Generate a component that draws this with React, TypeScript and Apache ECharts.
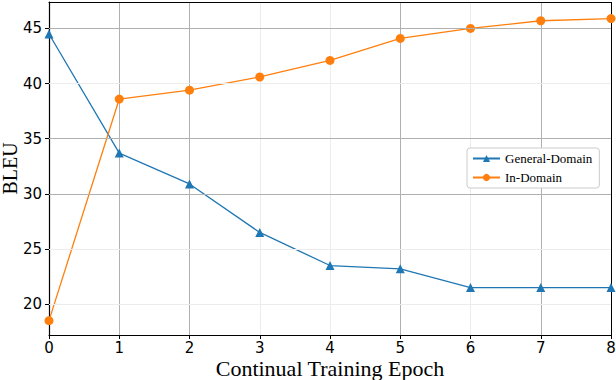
import React, { useEffect, useRef } from "react";
import * as echarts from "echarts";

const epochs = [0, 1, 2, 3, 4, 5, 6, 7, 8];
const generalDomain = [44.5, 33.7, 30.9, 26.5, 23.5, 23.2, 21.5, 21.5, 21.5];
const inDomain = [18.5, 38.6, 39.4, 40.6, 42.1, 44.1, 45.0, 45.7, 45.9];
const yTicks = [20, 25, 30, 35, 40, 45];
const yGridColors = ["#ececec", "#ececec", "#b0b0b0", "#b0b0b0", "#ececec", "#b0b0b0"];
const xGridColors = ["#dddddd", "#b0b0b0", "#b0b0b0", "#ececec", "#ececec", "#b0b0b0", "#ececec", "#b0b0b0", "#000000"];

export default function App() {
  const ref = useRef<HTMLDivElement>(null);
  useEffect(() => {
    if (!ref.current) return;
    const chart = echarts.init(ref.current, null, { renderer: "svg" });
    const sans = "DejaVu Sans";
    const serif = "Liberation Serif";
    chart.setOption({
      animation: false,
      backgroundColor: "#fff",
      grid: { left: 49, right: 5, top: 2, bottom: 45, outerBoundsMode: "none", containLabel: false },
      legend: {
        left: 467,
        top: 148,
        orient: "vertical",
        padding: [4, 7, 4, 5],
        itemGap: 6,
        itemWidth: 27,
        itemHeight: 9,
        backgroundColor: "#fff",
        borderColor: "#cccccc",
        borderWidth: 1,
        borderRadius: 3,
        textStyle: { fontFamily: serif, fontSize: 13, color: "#000" },
        data: ["General-Domain", "In-Domain"],
      },
      xAxis: [
        {
          type: "value",
          min: 0,
          max: 8,
          interval: 1,
          name: "Continual Training Epoch",
          nameLocation: "middle",
          nameGap: 22,
          nameMoveOverlap: false,
          nameTextStyle: { fontFamily: serif, fontSize: 22, lineHeight: 22, color: "#000" },
          axisLine: { show: true, lineStyle: { color: "#000", width: 1.2 } },
          axisTick: { show: true, length: 4, lineStyle: { color: "#000" } },
          axisLabel: { fontFamily: sans, fontSize: 15, color: "#000", margin: 5 },
          splitLine: { show: true, lineStyle: { color: xGridColors, width: 1 } },
        },
        {
          type: "value",
          position: "top",
          min: 0,
          max: 8,
          interval: 1,
          axisLine: { show: true, lineStyle: { color: "#000", width: 1.2 } },
          axisTick: { show: false },
          axisLabel: { show: false },
          splitLine: { show: false },
        },
      ],
      yAxis: [
        {
          type: "value",
          min: 17.2,
          max: 47.4,
          name: "BLEU",
          nameLocation: "middle",
          nameGap: 29,
          nameMoveOverlap: false,
          nameTextStyle: { fontFamily: serif, fontSize: 20, lineHeight: 20, color: "#000" },
          axisLine: { show: false },
          axisTick: { show: true, length: 4, customValues: yTicks, lineStyle: { color: "#000" } },
          axisLabel: { fontFamily: sans, fontSize: 15, color: "#000", margin: 7, customValues: yTicks },
          splitLine: { show: false },
        },
        {
          type: "value",
          position: "right",
          min: 17.2,
          max: 47.4,
          axisLine: { show: true, lineStyle: { color: "#000", width: 1.2 } },
          axisTick: { show: false },
          axisLabel: { show: false },
          splitLine: { show: false },
        },
      ],
      series: [
        {
          type: "line",
          name: "grid",
          data: [],
          silent: true,
          z: 1,
          markLine: {
            silent: true,
            symbol: "none",
            label: { show: false },
            data: yTicks.map((v, i) => ({ yAxis: v, lineStyle: { color: yGridColors[i], width: 1, type: "solid" } })),
          },
        },
        {
          type: "line",
          name: "General-Domain",
          data: epochs.map((e, i) => [e, generalDomain[i]]),
          color: "#1f77b4",
          symbol: "triangle",
          symbolSize: 9,
          lineStyle: { width: 1.3 },
          z: 3,
        },
        {
          type: "line",
          name: "In-Domain",
          data: epochs.map((e, i) => [e, inDomain[i]]),
          color: "#ff7f0e",
          symbol: "circle",
          symbolSize: 9,
          lineStyle: { width: 1.3 },
          z: 3,
        },
      ],
    });
    return () => chart.dispose();
  }, []);
  return <div ref={ref} style={{ width: 616, height: 380, position: "absolute", left: 0, top: 0 }} />;
}
